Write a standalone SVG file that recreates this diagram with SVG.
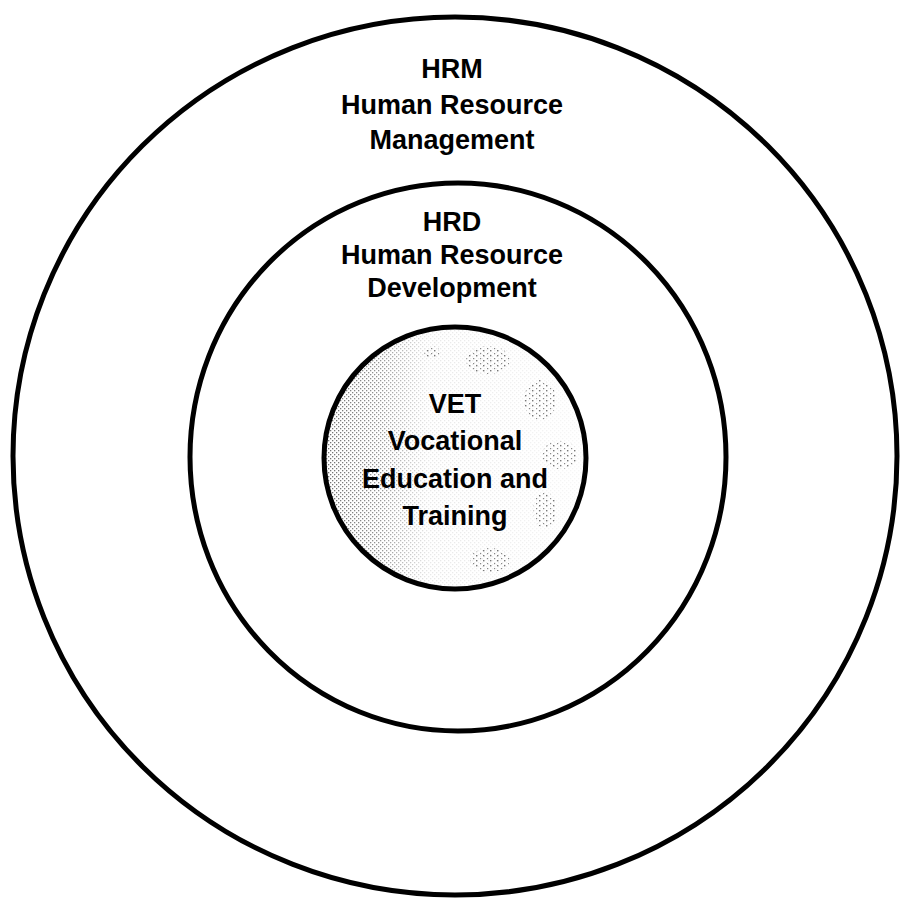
<svg xmlns="http://www.w3.org/2000/svg" width="900" height="898" viewBox="0 0 900 898">
<style>
.ring{fill:none;stroke:#000;stroke-width:5}
.lbl{font-family:"Liberation Sans",Arial,sans-serif;font-weight:bold;font-size:27px;fill:#000;text-anchor:middle}
.sp{fill:url(#dots2)}
</style>
<defs>
<pattern id="dots" width="4" height="4" patternUnits="userSpaceOnUse">
<rect x="0" y="0" width="1.3" height="1.3" fill="#666"/>
<rect x="2" y="2" width="1.3" height="1.3" fill="#666"/>
</pattern>
<pattern id="dots2" width="7" height="5" patternUnits="userSpaceOnUse">
<rect x="0" y="0" width="1.4" height="1.4" fill="#777"/>
<rect x="4" y="3" width="1.2" height="1.2" fill="#888"/>
</pattern>
<linearGradient id="fade" x1="0" y1="0" x2="1" y2="0">
<stop offset="0" stop-color="#fff" stop-opacity="0.05"/>
<stop offset="0.22" stop-color="#fff" stop-opacity="0.3"/>
<stop offset="0.4" stop-color="#fff" stop-opacity="0.85"/>
<stop offset="1" stop-color="#fff" stop-opacity="0.95"/>
</linearGradient>
<clipPath id="innerClip"><circle cx="455" cy="458" r="131"/></clipPath>
</defs>
<rect width="900" height="898" fill="#fff"/>
<g id="hrm">
<ellipse class="ring" cx="455" cy="456" rx="442" ry="439"/>
<text class="lbl" x="452" y="78">HRM</text>
<text class="lbl" x="452" y="114">Human Resource</text>
<text class="lbl" x="452" y="149">Management</text>
</g>
<g id="hrd">
<ellipse class="ring" cx="458" cy="457" rx="268" ry="274" stroke-width="4.5"/>
<text class="lbl" x="452" y="231">HRD</text>
<text class="lbl" x="452" y="264">Human Resource</text>
<text class="lbl" x="452" y="297">Development</text>
</g>
<g id="vet">
<g clip-path="url(#innerClip)">
<rect x="320" y="325" width="270" height="270" fill="url(#dots)"/>
<rect x="320" y="325" width="270" height="270" fill="url(#fade)"/>
<g class="sp">
<ellipse cx="488" cy="360" rx="22" ry="14"/>
<ellipse cx="540" cy="400" rx="16" ry="20"/>
<ellipse cx="560" cy="455" rx="18" ry="14"/>
<ellipse cx="545" cy="510" rx="12" ry="18"/>
<ellipse cx="490" cy="560" rx="20" ry="12"/>
<ellipse cx="432" cy="352" rx="8" ry="6"/>
</g>
</g>
<circle class="ring" cx="455" cy="458" r="131" stroke-width="4.5"/>
<text class="lbl" x="455" y="413">VET</text>
<text class="lbl" x="455" y="450">Vocational</text>
<text class="lbl" x="455" y="488">Education and</text>
<text class="lbl" x="455" y="525">Training</text>
</g>
<g id="connectors"/>
</svg>
